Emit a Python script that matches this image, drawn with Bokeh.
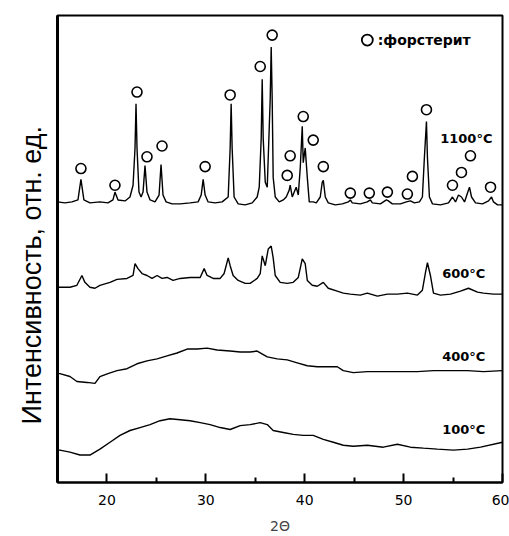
from bokeh.plotting import figure
from bokeh.models import FixedTicker
from bokeh.core.properties import value
from bokeh.embed import file_html
from bokeh.resources import INLINE

# ---- data (2theta in degrees, intensity in arbitrary units incl. vertical offsets) ----
t1100 = [15.0, 15.75, 16.46, 17.07, 17.37, 17.67, 18.28, 19.29, 20.10, 20.61, 20.81, 21.12, 21.83, 22.33,
         22.64, 22.84, 22.94, 23.04, 23.24, 23.45, 23.65, 23.85, 24.05, 24.36, 24.86, 25.27, 25.47, 25.67,
         25.98, 26.59, 27.40, 28.41, 29.22, 29.53, 29.73, 29.93, 30.23, 30.94, 31.65, 32.26, 32.46, 32.56,
         32.66, 32.86, 33.27, 33.98, 34.69, 35.19, 35.40, 35.60, 35.70, 35.80, 36.01, 36.21, 36.41, 36.51,
         36.61, 36.71, 36.81, 37.02, 37.42, 37.83, 38.13, 38.43, 38.53, 38.74, 38.94, 39.14, 39.35, 39.55,
         39.75, 39.85, 40.05, 40.26, 40.46, 40.86, 41.17, 41.57, 41.77, 41.88, 42.08, 42.38, 43.09, 43.80,
         44.41, 44.61, 44.81, 45.62, 46.33, 46.64, 46.84, 47.65, 48.26, 48.46, 48.86, 49.67, 50.28, 50.69,
         51.09, 51.60, 51.90, 52.10, 52.31, 52.41, 52.61, 52.92, 53.73, 54.54, 54.94, 55.25, 55.55, 55.85,
         56.16, 56.46, 56.66, 56.87, 57.27, 57.98, 58.59, 58.89, 59.09, 59.50, 60.0]
i1100 = [286, 285, 286, 288, 309, 288, 285, 286, 285, 288, 296, 288, 287, 291,
         303, 341, 386, 341, 296, 291, 296, 323, 296, 288, 286, 293, 324, 293,
         286, 284, 284, 285, 286, 293, 309, 293, 286, 285, 286, 291, 341, 386,
         341, 291, 284, 283, 285, 291, 301, 351, 411, 351, 306, 301, 361, 391,
         444, 391, 311, 291, 286, 288, 291, 298, 303, 291, 296, 301, 293, 321,
         363, 326, 341, 311, 286, 286, 285, 291, 306, 308, 291, 285, 283, 284,
         286, 288, 285, 284, 286, 288, 285, 284, 288, 287, 284, 284, 286, 287,
         285, 286, 291, 331, 368, 331, 291, 284, 283, 285, 291, 286, 293, 291,
         286, 295, 301, 291, 285, 284, 287, 291, 286, 283, 283]

t600 = [15.0, 15.24, 16.26, 16.96, 17.47, 17.77, 18.28, 18.79, 19.29, 20.31, 21.02, 22.03, 22.64, 22.84,
        23.14, 23.55, 24.05, 24.56, 25.07, 25.57, 26.08, 26.69, 27.40, 28.41, 29.43, 29.83, 30.13, 30.74,
        31.45, 31.85, 32.26, 32.46, 32.76, 33.27, 33.98, 34.48, 35.19, 35.50, 35.70, 36.01, 36.31, 36.61,
        36.81, 37.02, 37.52, 38.23, 38.84, 39.35, 39.75, 40.05, 40.26, 40.76, 41.27, 41.88, 42.38, 43.29,
        43.90, 44.61, 45.62, 46.33, 47.35, 48.36, 49.37, 50.38, 51.40, 51.90, 52.21, 52.41, 52.71, 53.02,
        53.73, 54.74, 55.75, 56.56, 57.47, 58.08, 59.09, 60.0]
i600 = [199, 199, 199, 201, 211, 204, 199, 198, 201, 204, 207, 208, 211, 223,
        218, 213, 211, 208, 211, 208, 209, 206, 208, 209, 209, 218, 211, 208,
        208, 213, 229, 221, 211, 206, 203, 203, 208, 213, 231, 221, 238, 241,
        229, 211, 204, 203, 204, 209, 228, 223, 206, 201, 200, 204, 198, 195,
        193, 192, 191, 193, 190, 192, 192, 193, 191, 196, 214, 224, 211, 193,
        191, 192, 195, 198, 194, 193, 192, 192]

t400 = [15.0, 15.24, 16.26, 16.96, 17.98, 18.79, 19.29, 20.10, 21.02, 22.03, 23.04, 24.05, 25.07, 26.08,
        27.09, 28.11, 29.12, 30.13, 31.14, 32.46, 33.47, 34.48, 35.19, 36.21, 37.22, 38.23, 39.24, 40.26,
        41.27, 42.28, 43.29, 43.90, 44.91, 46.33, 47.95, 49.67, 51.40, 53.02, 54.74, 56.46, 58.08, 60.0]
i400 = [111, 111, 108, 103, 102, 101, 108, 111, 114, 116, 121, 124, 126, 129,
        132, 136, 136, 137, 135, 134, 133, 133, 134, 128, 126, 125, 122, 119,
        118, 118, 118, 114, 112, 113, 113, 113, 113, 114, 114, 114, 113, 114]

t100 = [15.0, 15.24, 16.26, 17.27, 18.28, 19.29, 20.31, 21.32, 22.33, 23.34, 24.36, 25.37, 26.38, 27.40,
        28.41, 29.43, 30.43, 31.45, 32.46, 33.47, 34.48, 35.50, 36.21, 36.81, 37.83, 38.84, 39.85, 40.86,
        41.88, 42.89, 43.90, 44.91, 46.33, 47.95, 49.37, 50.69, 52.00, 53.42, 55.04, 56.46, 57.78, 60.0]
i100 = [33, 33, 31, 28, 28, 34, 41, 48, 53, 56, 59, 63, 65, 64,
        63, 61, 59, 56, 54, 58, 59, 61, 59, 53, 51, 49, 48, 48,
        44, 41, 38, 37, 38, 36, 39, 36, 35, 34, 33, 34, 36, 41]

# forsterite peak markers (2theta, marker height)
marker_t = [17.37, 20.81, 23.04, 24.05, 25.57, 29.93, 32.46, 35.50, 36.71, 38.23, 38.53, 39.85,
            40.86, 41.88, 44.61, 46.53, 48.36, 50.38, 50.89, 52.31, 54.94, 55.85, 56.76, 58.79]
marker_i = [320, 303, 398, 332, 343, 322, 395, 424, 456, 313, 333, 373,
            349, 322, 295, 295, 296, 294, 312, 380, 303, 316, 333, 301]

temp_labels = ["1100°C", "600°C", "400°C", "100°C"]
temp_label_t = [53.7, 53.9, 53.9, 53.9]
temp_label_i = [351, 213, 128, 54]

legend_t = [46.33]
legend_i = [451]
legend_text = [":форстерит"]

x_ticks = [20, 30, 40, 50, 60]
x_minor = [25, 35, 45, 55]

y_title = "Интенсивность, отн. ед." + "\u00a0" * 7

p = figure(width=509, height=536, x_range=(15, 60), y_range=(0, 476),
           output_backend="svg", toolbar_location=None,
           min_border_left=57, min_border_right=7, min_border_top=15, min_border_bottom=45)
p.xgrid.visible = False
p.ygrid.visible = False
p.outline_line_color = "black"
p.outline_line_width = 2
p.background_fill_color = "white"
p.border_fill_color = "white"

for t, i in [(t1100, i1100), (t600, i600), (t400, i400), (t100, i100)]:
    p.line(t, i, line_color="black", line_width=1.4)

p.scatter(marker_t, marker_i, marker="circle", size=10, fill_color=None,
          line_color="black", line_width=1.6)
p.scatter(legend_t, legend_i, marker="circle", size=11, fill_color=None,
          line_color="black", line_width=1.8)
p.text(x=[legend_t[0] + 1.05], y=legend_i, text=legend_text, text_font=value("DejaVu Sans"),
       text_font_size="14px", text_font_style="bold", text_baseline="middle", text_align="left",
       text_color="black")

p.text(x=temp_label_t, y=temp_label_i, text=temp_labels, text_font=value("DejaVu Sans"),
       text_font_size="13px", text_font_style="bold", text_baseline="middle", text_align="left",
       text_color="black")

xa = p.xaxis[0]
xa.ticker = FixedTicker(ticks=x_ticks, minor_ticks=x_minor)
xa.major_tick_in = 9
xa.major_tick_out = 0
xa.minor_tick_in = 5
xa.minor_tick_out = 0
xa.major_tick_line_width = 2
xa.minor_tick_line_width = 2
xa.axis_line_width = 2
xa.major_label_text_font = "DejaVu Sans"
xa.major_label_text_font_size = "14px"
xa.major_label_text_color = "black"
xa.major_label_standoff = 12
xa.axis_label = "2Θ"
xa.axis_label_text_font = "DejaVu Sans"
xa.axis_label_text_font_size = "14px"
xa.axis_label_text_font_style = "normal"
xa.axis_label_standoff = 10

ya = p.yaxis[0]
ya.ticker = FixedTicker(ticks=[])
ya.axis_line_width = 3
ya.axis_label = y_title
ya.axis_label_text_font = "Liberation Sans"
ya.axis_label_text_font_size = "27px"
ya.axis_label_text_font_style = "normal"
ya.axis_label_text_color = "black"
ya.axis_label_standoff = 11

open("out.html", "w").write(file_html(p, INLINE))
